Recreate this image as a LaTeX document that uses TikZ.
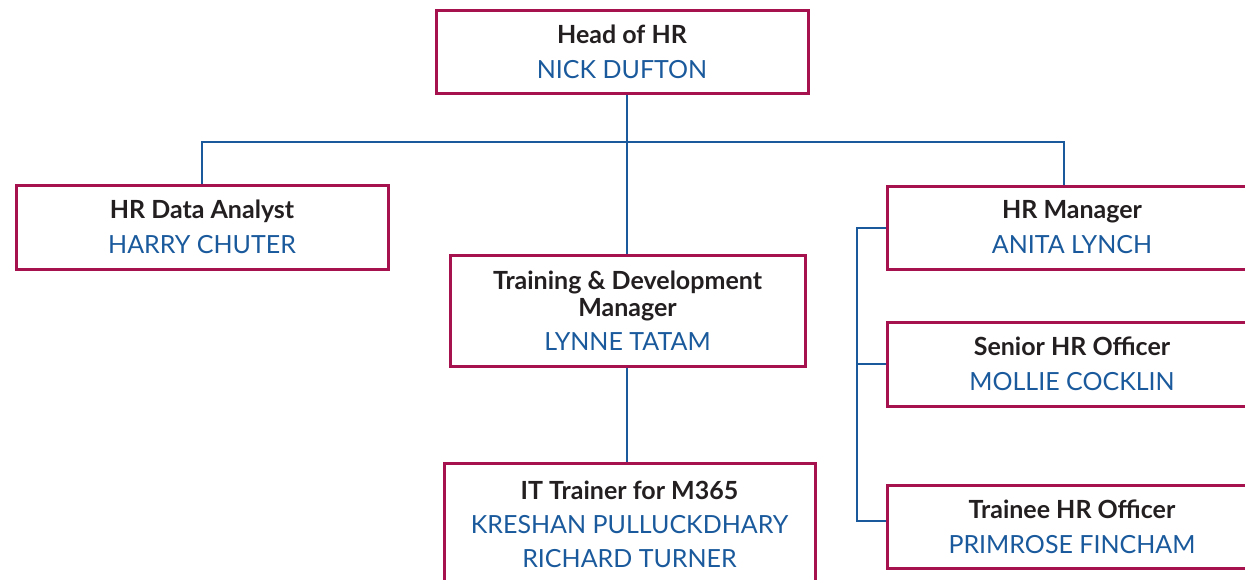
\documentclass[tikz,border=0pt]{standalone}
\usepackage{fontspec}
\setmainfont{Lato}
\definecolor{maroon}{HTML}{A6124D}
\definecolor{hrblue}{HTML}{1A5A9C}
\definecolor{titleblack}{HTML}{231F20}
\newcommand{\ttl}[1]{{\color{titleblack}\bfseries #1}}
\newcommand{\nm}[1]{{\color{hrblue}#1}}
\begin{document}
\begin{tikzpicture}[x=1pt,y=-1pt,
  box/.style={draw=maroon,line width=3pt,rectangle,inner sep=0pt,align=center,
    font=\fontsize{25}{27}\selectfont},
  conn/.style={draw=hrblue,line width=2pt}]
\useasboundingbox (0,0) rectangle (1245,579);
\clip (0,0) rectangle (1245,579);
\node[box,minimum width=372pt,minimum height=83pt] (head) at (622,51.5)
  {\ttl{Head of HR}\\[8pt]\nm{NICK DUFTON}};
\node[box,minimum width=372pt,minimum height=84pt] (analyst) at (202,227)
  {\ttl{HR Data Analyst}\\[8pt]\nm{HARRY CHUTER}};
\node[box,minimum width=355pt,minimum height=111pt] (train) at (627.5,310.5)
  {\ttl{Training \& Development}\\\ttl{Manager}\\[7pt]\nm{LYNNE TATAM}};
\node[box,minimum width=371pt,minimum height=122pt,anchor=north] (it) at (629.5,462)
  {\ttl{IT Trainer for M365}\\[7pt]\nm{KRESHAN PULLUCKDHARY}\\[7pt]\nm{RICHARD TURNER}};
\node[box,minimum width=370pt,minimum height=83pt] (hrm) at (1072,227.5)
  {\ttl{HR Manager}\\[8pt]\nm{ANITA LYNCH}};
\node[box,minimum width=370pt,minimum height=84pt] (senior) at (1072,364)
  {\ttl{Senior HR Officer}\\[8pt]\nm{MOLLIE COCKLIN}};
\node[box,minimum width=370pt,minimum height=83pt] (trainee) at (1072,526.5)
  {\ttl{Trainee HR Officer}\\[8pt]\nm{PRIMROSE FINCHAM}};
\coordinate (j) at (627,142);
\coordinate (r) at (1064,142);
\coordinate (b) at (857,228);
\draw[conn] (head.south -| j) -- (train.north -| j);
\draw[conn] (analyst.north) |- (j) -- (r) -- (hrm.north -| r);
\draw[conn] (train.south -| j) -- (it.north -| j);
\draw[conn] (hrm.west) -| (b) |- ([yshift=6pt]trainee.west);
\draw[conn] (b |- senior.west) -- (senior.west);
\end{tikzpicture}
\end{document}
